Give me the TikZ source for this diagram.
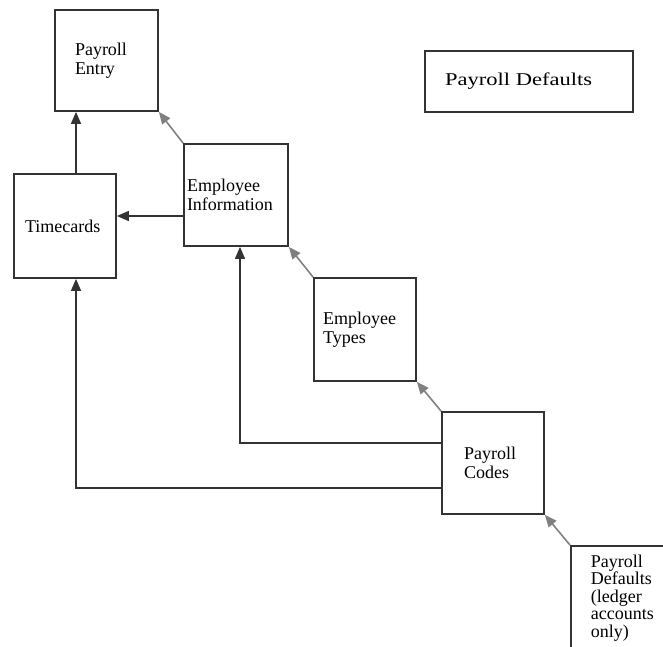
\documentclass[tikz,border=0pt]{standalone}
\usepackage{fontspec}
\setmainfont{Liberation Serif}
\newfontfamily\widefont[FakeStretch=1.25]{Liberation Serif}
\usetikzlibrary{arrows.meta}
\definecolor{boxline}{HTML}{333333}
\definecolor{diagline}{HTML}{808080}
\tikzset{
  blk/.style={draw=boxline, line width=1.8pt, align=left, inner ysep=0pt,
    font=\fontsize{18}{19}\selectfont},
  arr/.style={draw=boxline, line width=1.6pt, -{Triangle[length=12pt,width=10pt]}},
  diag/.style={arr, draw=diagline}
}
\begin{document}
\begin{tikzpicture}[x=1pt,y=-1pt]
\useasboundingbox (0,0) rectangle (663,646);
\clip (0,0) rectangle (663,646);

% boxes
\node[blk, minimum height=101pt, inner xsep=20pt, text width=63pt] (entry) at (106.5,60.5) {Payroll\\Entry};
\node[blk, minimum height=104pt, inner xsep=11pt, text width=80pt] (time) at (65,226) {Timecards};
\node[blk, minimum height=102pt, inner xsep=3pt, text width=98pt] (info) at (236,195) {Employee\\Information};
\node[blk, minimum height=61pt, inner xsep=20pt, text width=168pt, font=\widefont\fontsize{18}{19}\selectfont] (defaults) at (529,81.5) {Payroll Defaults};
\node[blk, minimum height=103pt, inner xsep=9pt, text width=84pt] (types) at (365,329.5) {Employee\\Types};
\node[blk, minimum height=102pt, inner xsep=22pt, text width=58pt] (codes) at (493,463) {Payroll\\Codes};
\node[blk, anchor=north west, inner xsep=20pt, inner ysep=9pt, text width=100pt, font=\fontsize{18}{17.5}\selectfont] (ledger) at (570,545) {Payroll\\Defaults\\(ledger\\accounts\\only)};

% connectors
\draw[arr] ([xshift=11pt]time.north) -- ([xshift=11pt]time.north |- entry.south);
\draw[diag] (info.north west) -- (entry.south east);
\draw[arr] ([yshift=-21pt]info.west) -- ([yshift=-21pt]info.west -| time.east);
\draw[diag] (types.north west) -- (info.south east);
\draw[diag] (codes.north west) -- (types.south east);
\draw[diag] (ledger.north west) -- (codes.south east);
\draw[arr] ([yshift=20pt]codes.west) -| ([xshift=4pt]info.south);
\draw[arr] ([yshift=-25pt]codes.west) -| ([xshift=11pt]time.south);

\end{tikzpicture}
\end{document}
